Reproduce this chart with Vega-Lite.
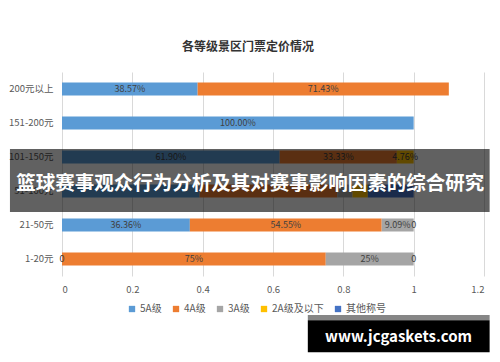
{
  "$schema": "https://vega.github.io/schema/vega-lite/v6.json",
  "width": 422,
  "height": 204,
  "autosize": "none",
  "padding": {"left": 62, "top": 72, "right": 16, "bottom": 86},
  "background": "white",
  "config": {"font": "Noto Sans CJK SC", "view": {"stroke": null}},
  "title": {"text": "各等级景区门票定价情况", "fontSize": 12, "fontWeight": "bold", "color": "#333333", "offset": 18, "anchor": "middle", "dx": -25},
  "datasets": {
    "bars": [
      {"range": "200元以上", "series": "5A级", "value": 0.3857, "label": "38.57%"},
      {"range": "200元以上", "series": "4A级", "value": 0.7143, "label": "71.43%"},
      {"range": "151-200元", "series": "5A级", "value": 1.0, "label": "100.00%"},
      {"range": "101-150元", "series": "5A级", "value": 0.619, "label": "61.90%"},
      {"range": "101-150元", "series": "4A级", "value": 0.3333, "label": "33.33%"},
      {"range": "101-150元", "series": "2A级及以下", "value": 0.0476, "label": "4.76%"},
      {"range": "51-100元", "series": "5A级", "value": 0.3913, "label": ""},
      {"range": "51-100元", "series": "4A级", "value": 0.3913, "label": ""},
      {"range": "51-100元", "series": "3A级", "value": 0.0435, "label": ""},
      {"range": "51-100元", "series": "2A级及以下", "value": 0.0435, "label": ""},
      {"range": "51-100元", "series": "其他称号", "value": 0.1304, "label": ""},
      {"range": "21-50元", "series": "5A级", "value": 0.3636, "label": "36.36%"},
      {"range": "21-50元", "series": "4A级", "value": 0.5455, "label": "54.55%"},
      {"range": "21-50元", "series": "3A级", "value": 0.0909, "label": "9.09%"},
      {"range": "21-50元", "series": "2A级及以下", "value": 0, "label": "0"},
      {"range": "1-20元", "series": "5A级", "value": 0, "label": "0"},
      {"range": "1-20元", "series": "4A级", "value": 0.75, "label": "75%"},
      {"range": "1-20元", "series": "3A级", "value": 0.25, "label": "25%"},
      {"range": "1-20元", "series": "2A级及以下", "value": 0, "label": "0"}
    ],
    "overlayBoxes": [
      {"x1": -0.148, "x2": 1.216, "y1": 2.265, "y2": 4.12, "kind": "banner"},
      {"x1": 0.699, "x2": 1.216, "y1": 7.15, "y2": 7.3, "kind": "strip"},
      {"x1": 0.699, "x2": 1.216, "y1": 7.3, "y2": 8.24, "kind": "box"}
    ],
    "overlayTexts": [
      {"x": 0.535, "y": 3.29, "text": "篮球赛事观众行为分析及其对赛事影响因素的综合研究", "kind": "banner"},
      {"x": 0.957, "y": 7.79, "text": "www.jcgaskets.com", "kind": "box"}
    ]
  },
  "layer": [
    {
      "data": {"name": "bars"},
      "transform": [
        {"calculate": "indexof(['5A级','4A级','3A级','2A级及以下','其他称号'], datum.series)", "as": "o"},
        {"stack": "value", "groupby": ["range"], "sort": [{"field": "o", "order": "ascending"}], "as": ["v0", "v1"]}
      ],
      "mark": {"type": "bar"},
      "encoding": {
        "y": {"field": "range", "type": "nominal", "sort": ["200元以上", "151-200元", "101-150元", "51-100元", "21-50元", "1-20元"],
              "scale": {"paddingInner": 0.62, "paddingOuter": 0.31},
              "axis": {"title": null, "domain": false, "ticks": false, "labelFontSize": 9.5, "labelColor": "#595959", "labelPadding": 9}},
        "x": {"field": "v0", "type": "quantitative", "scale": {"domain": [0, 1.2], "nice": false, "zero": false},
              "axis": {"title": null, "values": [0, 0.2, 0.4, 0.6, 0.8, 1, 1.2], "format": "~g", "domain": false, "ticks": false, "gridColor": "#d9d9d9", "labelFontSize": 9.5, "labelColor": "#595959", "labelPadding": 8}},
        "x2": {"field": "v1"},
        "color": {"field": "series", "type": "nominal",
                  "scale": {"domain": ["5A级", "4A级", "3A级", "2A级及以下", "其他称号"], "range": ["#5B9BD5", "#ED7D31", "#A5A5A5", "#FFC000", "#4472C4"]},
                  "legend": {"title": null, "orient": "none", "direction": "horizontal", "legendX": 65, "legendY": 232, "symbolType": "square", "symbolSize": 40, "symbolStrokeWidth": 0, "labelFontSize": 10, "labelColor": "#595959", "columnPadding": 9, "labelOffset": 3}}
      }
    },
    {
      "data": {"name": "bars"},
      "transform": [
        {"calculate": "indexof(['5A级','4A级','3A级','2A级及以下','其他称号'], datum.series)", "as": "o"},
        {"stack": "value", "groupby": ["range"], "sort": [{"field": "o", "order": "ascending"}], "as": ["v0", "v1"]},
        {"calculate": "(datum.v0 + datum.v1) / 2", "as": "mid"}
      ],
      "mark": {"type": "text", "fontSize": 9, "color": "#404040", "baseline": "middle", "align": "center"},
      "encoding": {
        "y": {"field": "range", "type": "nominal", "sort": ["200元以上", "151-200元", "101-150元", "51-100元", "21-50元", "1-20元"],
              "scale": {"paddingInner": 0.62, "paddingOuter": 0.31}, "axis": null},
        "x": {"field": "mid", "type": "quantitative", "scale": {"domain": [0, 1.2], "nice": false, "zero": false}},
        "text": {"field": "label"}
      }
    },
    {
      "data": {"name": "overlayBoxes"},
      "mark": {"type": "rect", "clip": false},
      "encoding": {
        "x": {"field": "x1", "type": "quantitative", "scale": {"domain": [0, 1.2], "nice": false, "zero": false}},
        "x2": {"field": "x2"},
        "y": {"field": "y1", "type": "quantitative", "scale": {"domain": [0, 6], "reverse": true, "nice": false, "zero": false}, "axis": null},
        "y2": {"field": "y2"},
        "fill": {"field": "kind", "type": "nominal", "scale": {"domain": ["banner", "strip", "box"], "range": ["#000000", "#6a6a6a", "#000000"]}, "legend": null},
        "opacity": {"field": "kind", "type": "nominal", "scale": {"domain": ["banner", "strip", "box"], "range": [0.62, 1, 1]}, "legend": null}
      }
    },
    {
      "data": {"name": "overlayTexts"},
      "mark": {"type": "text", "color": "white", "fontWeight": "bold", "baseline": "middle", "align": "center", "clip": false},
      "encoding": {
        "x": {"field": "x", "type": "quantitative", "scale": {"domain": [0, 1.2], "nice": false, "zero": false}},
        "y": {"field": "y", "type": "quantitative", "scale": {"domain": [0, 6], "reverse": true, "nice": false, "zero": false}, "axis": null},
        "text": {"field": "text"},
        "size": {"field": "kind", "type": "nominal", "scale": {"domain": ["banner", "box"], "range": [19.5, 15]}, "legend": null},
        "font": {"field": "kind", "type": "nominal", "scale": {"domain": ["banner", "box"], "range": ["Noto Sans CJK SC", "DejaVu Sans"]}, "legend": null}
      }
    }
  ],
  "resolve": {"scale": {"y": "independent", "fill": "independent", "opacity": "independent"}}
}
